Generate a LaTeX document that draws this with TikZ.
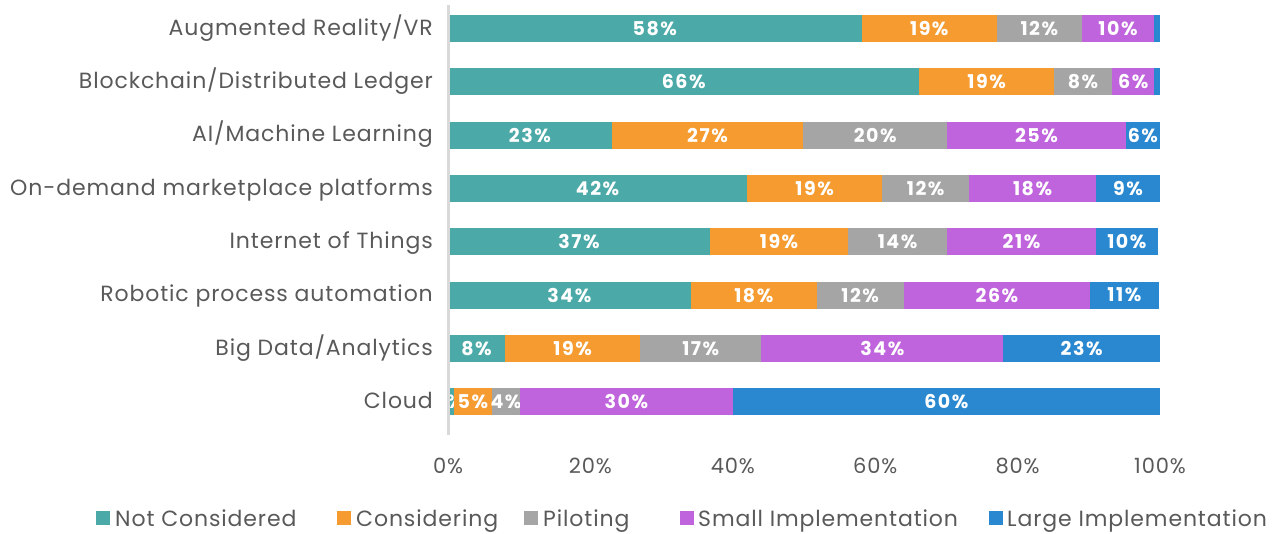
\documentclass[tikz,border=0pt]{standalone}
\usepackage{fontspec}
\setmainfont{Poppins}[LetterSpace=4]
\newfontfamily\valfont{Poppins}[LetterSpace=8]
\definecolor{notcons}{HTML}{4BAAA8}
\definecolor{considering}{HTML}{F59B30}
\definecolor{piloting}{HTML}{A5A5A5}
\definecolor{smallimpl}{HTML}{BF64DC}
\definecolor{largeimpl}{HTML}{2A88D0}
\definecolor{txtgray}{HTML}{595959}
\begin{document}
\begin{tikzpicture}[x=1pt,y=-1pt]
\tikzset{catlabel/.style={anchor=base east, inner sep=0pt, text=txtgray, font=\fontsize{22}{22}\selectfont},
  ticklabel/.style={anchor=base, inner sep=0pt, text=txtgray, font=\fontsize{21}{21}\selectfont},
  barval/.style={inner sep=0pt, text=white, font=\valfont\bfseries\fontsize{19}{19}\selectfont},
  legbox/.style={fill=#1, minimum size=14pt, inner sep=0pt, anchor=west},
  legtext/.style={anchor=base west, inner sep=0pt, text=txtgray, font=\fontsize{22}{22}\selectfont}}
\useasboundingbox (0,0) rectangle (1285,533);
% categories
\node[catlabel] (c1) at (433,35) {Augmented Reality/VR};
\node[catlabel] (c2) at (433,88.3) {Blockchain/Distributed Ledger};
\node[catlabel] (c3) at (433,141.6) {AI/Machine Learning};
\node[catlabel] (c4) at (433,195) {On-demand marketplace platforms};
\node[catlabel] (c5) at (433,248.3) {Internet of Things};
\node[catlabel] (c6) at (433,301.6) {Robotic process automation};
\node[catlabel] (c7) at (433,355) {Big Data/Analytics};
\node[catlabel] (c8) at (433,408.3) {Cloud};
% bars, in percent
\begin{scope}[xshift=448pt, x=7.12pt]
\foreach \a/\b/\c/\t [count=\k] in {0/58.1/notcons/58\%, 58.1/77.1/considering/19\%, 77.1/89/piloting/12\%, 89/99.2/smallimpl/10\%, 99.2/100/largeimpl/}
  {\fill[\c] (\a,15) rectangle (\b,42);
   \node[barval] (ar\k) at ({(\a+\b)/2},28.5) {\t};}
\foreach \a/\b/\c/\t [count=\k] in {0/66.2/notcons/66\%, 66.2/85.1/considering/19\%, 85.1/93.3/piloting/8\%, 93.3/99.2/smallimpl/6\%, 99.2/100/largeimpl/}
  {\fill[\c] (\a,68.3) rectangle (\b,95.3);
   \node[barval] (bc\k) at ({(\a+\b)/2},81.8) {\t};}
\foreach \a/\b/\c/\t [count=\k] in {0/23/notcons/23\%, 23/49.9/considering/27\%, 49.9/70.1/piloting/20\%, 70.1/95.2/smallimpl/25\%, 95.2/100/largeimpl/6\%}
  {\fill[\c] (\a,121.6) rectangle (\b,148.6);
   \node[barval] (ai\k) at ({(\a+\b)/2},135.1) {\t};}
\foreach \a/\b/\c/\t [count=\k] in {0/42/notcons/42\%, 42/61/considering/19\%, 61/73.2/piloting/12\%, 73.2/91/smallimpl/18\%, 91/100/largeimpl/9\%}
  {\fill[\c] (\a,175) rectangle (\b,202);
   \node[barval] (od\k) at ({(\a+\b)/2},188.5) {\t};}
\foreach \a/\b/\c/\t [count=\k] in {0/36.8/notcons/37\%, 36.8/56.2/considering/19\%, 56.2/70.1/piloting/14\%, 70.1/91/smallimpl/21\%, 91/99.7/largeimpl/10\%}
  {\fill[\c] (\a,228.3) rectangle (\b,255.3);
   \node[barval] (io\k) at ({(\a+\b)/2},241.8) {\t};}
\foreach \a/\b/\c/\t [count=\k] in {0/34.1/notcons/34\%, 34.1/51.8/considering/18\%, 51.8/64/piloting/12\%, 64/90.2/smallimpl/26\%, 90.2/99.8/largeimpl/11\%}
  {\fill[\c] (\a,281.6) rectangle (\b,308.6);
   \node[barval] (rp\k) at ({(\a+\b)/2},295.1) {\t};}
\foreach \a/\b/\c/\t [count=\k] in {0/8/notcons/8\%, 8/27/considering/19\%, 27/44/piloting/17\%, 44/78/smallimpl/34\%, 78/100/largeimpl/23\%}
  {\fill[\c] (\a,335) rectangle (\b,362);
   \node[barval] (bd\k) at ({(\a+\b)/2},348.5) {\t};}
\foreach \a/\b/\c/\t [count=\k] in {0/0.8/notcons/1\%, 0.8/6.2/considering/5\%, 6.2/10.1/piloting/4\%, 10.1/40/smallimpl/30\%, 40/100/largeimpl/60\%}
  {\fill[\c] (\a,388.3) rectangle (\b,415.3);
   \node[barval] (cl\k) at ({(\a+\b)/2},401.8) {\t};}
% axis
\coordinate (ytop) at (0,5);
\coordinate (ybot) at (0,435);
\draw[line width=3pt, gray!30] (ytop) -- (ybot);
\foreach \p in {0,20,...,100}
  \node[ticklabel] (t\p) at (\p,473) {\p\%};
\end{scope}
% legend
\node[legbox=notcons] (l1) at (96,518) {};
\node[legtext] (n1) at (115,526) {Not Considered};
\node[legbox=considering] (l2) at (337,518) {};
\node[legtext] (n2) at (356,526) {Considering};
\node[legbox=piloting] (l3) at (524,518) {};
\node[legtext] (n3) at (543,526) {Piloting};
\node[legbox=smallimpl] (l4) at (680,518) {};
\node[legtext] (n4) at (698,526) {Small Implementation};
\node[legbox=largeimpl] (l5) at (989,518) {};
\node[legtext] (n5) at (1007,526) {Large Implementation};
\end{tikzpicture}
\end{document}
